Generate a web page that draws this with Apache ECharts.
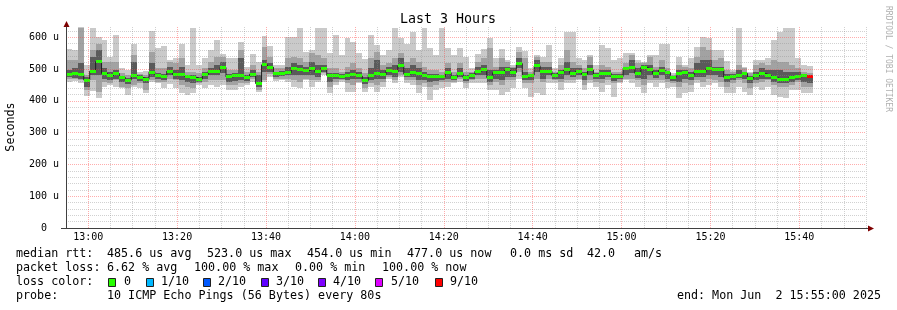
<!DOCTYPE html>
<html><head><meta charset="utf-8">
<script src="https://cdn.jsdelivr.net/npm/echarts@6/dist/echarts.min.js"></script>
<style>html,body{margin:0;padding:0;background:#fff}#c{width:897px;height:310px}</style>
</head><body><div id="c"></div>
<script>
// time axis in minutes since midnight (12:55 .. 15:55), one step = 80 s
const axisMin = 775, axisMax = 955;
const stepStart = 775, stepLen = 80 / 60;

// smoke bands (µs) per 80 s step: outer (min..max), middle, inner, median
const maxV = [563,559,632,514,630,601,591,539,607,502,497,580,491,494,619,565,573,528,533,580,514,628,512,533,559,591,546,533,533,586,507,546,523,
 604,573,514,512,601,601,630,554,559,630,630,549,607,544,598,586,549,531,607,575,544,559,630,596,580,617,559,630,565,544,628,565,544,
 565,539,502,546,563,598,533,563,528,512,570,556,502,544,539,575,502,533,617,617,533,528,544,512,575,565,528,533,549,549,528,523,544,
 544,580,580,486,539,512,533,570,601,596,559,559,525,497,628,507,491,528,528,533,591,617,630,630,533,512,510];
const hi2 = [528,528,630,481,559,580,523,523,523,486,481,544,483,481,554,502,502,523,518,533,491,491,486,502,523,539,539,497,497,559,491,512,491,
 570,539,502,502,533,539,533,523,549,544,533,502,502,491,507,518,502,486,533,554,512,518,533,549,523,533,523,507,497,497,491,518,491,
 518,491,491,523,533,565,507,533,523,507,554,533,491,539,523,523,491,512,559,523,512,502,539,491,512,507,491,491,518,544,518,518,539,
 507,528,502,481,512,507,502,539,570,559,528,533,497,491,512,502,486,512,518,512,528,523,523,512,502,491,486];
const hi3 = [497,504,518,476,539,559,502,491,497,479,473,523,481,476,518,486,483,507,497,507,481,481,476,491,502,512,523,483,486,533,481,497,481,
 528,518,491,494,507,518,512,507,523,512,512,486,486,483,491,497,491,476,502,528,497,507,512,533,502,512,502,491,483,483,481,502,481,
 502,481,486,507,512,497,497,507,507,502,533,491,483,528,507,507,486,497,523,502,502,491,512,486,497,497,483,483,507,528,502,512,512,
 497,507,494,478,497,497,491,518,528,528,507,507,483,483,497,491,479,491,502,497,497,497,491,491,491,483,481];
const median = [484,485,483,465,493,523,486,479,486,474,465,478,473,468,490,479,475,493,483,484,477,474,468,483,493,491,505,475,478,478,474,484,454,
 513,506,485,487,488,502,499,495,501,491,502,479,478,475,479,484,478,463,481,487,482,495,491,510,484,490,486,479,476,475,475,488,473,
 486,473,481,493,499,473,488,488,497,489,517,475,481,510,491,493,479,488,497,486,493,484,497,481,486,486,476,476,502,505,486,505,499,
 485,495,489,474,487,488,478,493,491,501,499,497,474,477,481,486,471,478,486,480,473,467,467,474,475,479,477];
const lo3 = [476,473,470,444,481,481,470,465,470,458,452,470,462,455,476,468,465,481,470,465,458,455,460,470,481,481,486,460,462,465,462,476,444,
 491,491,476,479,481,481,481,481,481,476,491,460,468,468,465,470,470,452,465,470,470,481,476,491,476,476,465,465,460,462,465,470,465,
 476,462,470,481,481,460,470,465,476,476,502,465,465,491,470,481,470,470,481,476,481,465,481,470,470,476,462,467,481,486,473,470,481,
 473,481,470,462,460,470,465,476,476,481,481,476,460,465,473,470,455,465,470,470,460,455,455,460,465,460,455];
const lo2 = [470,470,465,434,465,429,460,455,465,444,439,450,455,434,465,460,460,470,465,450,444,439,455,460,465,465,465,450,450,455,455,470,434,
 465,483,470,470,470,465,460,470,465,465,486,444,460,465,455,450,460,439,455,450,460,476,465,481,465,465,450,455,444,450,460,460,460,
 470,455,465,470,470,450,460,450,465,465,491,455,455,470,460,470,465,460,465,465,470,450,465,460,455,465,455,460,470,470,465,450,465,
 465,465,460,455,444,455,450,465,460,470,465,460,444,455,465,455,439,455,460,465,450,444,444,450,460,444,444];
const minV = [460,462,455,416,431,410,444,450,444,439,418,444,439,423,458,455,439,452,439,423,418,423,450,439,450,444,450,434,434,444,450,460,429,
 460,476,462,465,460,444,439,465,444,460,481,423,450,460,429,429,455,429,444,429,444,470,455,476,455,450,423,444,402,434,439,444,455,
 460,439,455,455,455,434,434,418,429,439,470,439,413,423,418,455,455,434,455,455,465,434,455,444,429,450,413,455,465,455,444,423,455,
 444,455,439,444,408,423,429,455,444,450,455,444,423,423,444,429,418,444,434,444,418,413,410,434,434,423,423];
// lost pings out of 10, per step
const loss = [0,0,0,0,0,0,0,0,0,0,0,0,0,0,0,0,0,0,0,0,0,0,0,0,0,0,0,0,0,0,0,0,0,
 0,0,0,0,0,0,0,0,0,0,0,0,0,0,0,0,0,0,0,0,0,0,0,0,0,0,0,0,0,0,0,0,0,
 0,0,0,0,0,0,0,0,0,0,0,0,0,0,0,0,0,0,0,0,0,0,0,0,0,0,0,0,0,0,0,0,0,
 0,0,0,0,0,0,0,0,0,0,0,0,0,0,0,0,0,0,0,0,0,0,0,0,0,0,9];
const lossColors = {0:'#26ff00',1:'#00b8ff',2:'#0059ff',3:'#5e00ff',4:'#7e00ff',5:'#dd00ff',9:'#ff0000'};
const legendLoss = [['0',0,108,124],['1/10',1,146,161],['2/10',2,203,218],['3/10',3,261,276],['4/10',4,318,333],['5/10',5,375,391],['9/10',9,435,450]];

const yMax = 632;
const mono = '"DejaVu Sans Mono"';
const gridMinor = 'rgba(140,140,140,0.4)';
const gridMajor = 'rgba(255,60,60,0.42)';

const tAt = k => stepStart + k * stepLen;
const smokeData = median.map((m, k) => [tAt(k), tAt(k + 1), maxV[k], hi2[k], hi3[k], lo3[k], lo2[k], minV[k]]);
const medData = median.map((m, k) => [tAt(k), tAt(k + 1), m, loss[k]]);
const stepLine = median.map((m, k) => [tAt(k), m]);
stepLine.push([tAt(median.length), median[median.length - 1]]);

function rectBetween(api, t0, t1, lo, hi, fill) {
  const a = api.coord([t0, hi]), b = api.coord([t1, lo]);
  const x0 = Math.round(a[0]), x1 = Math.round(b[0]);
  const y0 = Math.round(a[1]), y1 = Math.round(b[1]);
  return {type: 'rect', shape: {x: x0, y: y0, width: x1 - x0, height: Math.max(1, y1 - y0)}, style: {fill}};
}

const chart = echarts.init(document.getElementById('c'), null, {renderer: 'canvas'});
const fmtTime = v => { const h = Math.floor(v / 60), m = Math.round(v % 60); return h + ':' + (m < 10 ? '0' : '') + m; };

const T = (x, y, text, extra) => Object.assign({type: 'text', x, y, style: Object.assign({text, fill: '#000', font: '11.7px ' + mono, align: 'left', verticalAlign: 'middle'}, extra || {})});
const graphics = [
  T(448, 20, 'Last 3 Hours', {font: '13.3px ' + mono, align: 'center'}),
  {type: 'text', x: 11, y: 127, rotation: Math.PI / 2, style: {text: 'Seconds', fill: '#000', font: '11.7px ' + mono, align: 'center', verticalAlign: 'middle'}},
  {type: 'text', x: 888, y: 59, rotation: -Math.PI / 2, style: {text: 'RRDTOOL / TOBI OETIKER', fill: '#b0b0b0', font: '8px ' + mono, align: 'center', verticalAlign: 'middle'}},
  T(16, 254, 'median rtt:'), T(107, 254, '485.6 us avg'), T(207, 254, '523.0 us max'), T(307, 254, '454.0 us min'),
  T(407, 254, '477.0 us now'), T(510, 254, '0.0 ms sd'), T(587, 254, '42.0'), T(634, 254, 'am/s'),
  T(16, 268, 'packet loss:'), T(107, 268, '6.62 % avg'), T(194, 268, '100.00 % max'), T(295, 268, '0.00 % min'), T(382, 268, '100.00 % now'),
  T(16, 282, 'loss color:'),
  T(16, 296, 'probe:'), T(107, 296, '10 ICMP Echo Pings (56 Bytes) every 80s'),
  T(881, 296, 'end: Mon Jun  2 15:55:00 2025', {align: 'right'}),
  // axis arrows
  {type: 'polygon', shape: {points: [[66.5, 21], [63.5, 27], [69.5, 27]]}, style: {fill: '#7f0000'}},
  {type: 'polygon', shape: {points: [[874, 228.5], [868, 225.5], [868, 231.5]]}, style: {fill: '#7f0000'}},
  {type: 'line', shape: {x1: 866, y1: 228.5, x2: 868, y2: 228.5}, style: {stroke: '#404040', lineWidth: 1}},
  {type: 'line', shape: {x1: 61, y1: 228.5, x2: 66, y2: 228.5}, style: {stroke: '#404040', lineWidth: 1}}
];
legendLoss.forEach(([label, l, bx, tx]) => {
  graphics.push({type: 'rect', shape: {x: bx + 0.5, y: 278.5, width: 7, height: 8}, style: {fill: lossColors[l], stroke: '#202020', lineWidth: 1}});
  graphics.push(T(tx, 282, label));
});

chart.setOption({
  animation: false,
  backgroundColor: '#ffffff',
  grid: {left: 66, right: 31, top: 27, bottom: 82, containLabel: false},
  xAxis: {
    type: 'value', min: axisMin, max: axisMax, interval: 5, z: 10,
    axisLine: {show: true, lineStyle: {color: '#404040', width: 1}},
    axisTick: {show: false},
    axisLabel: {margin: 4, color: '#000', fontFamily: mono, fontSize: 10,
      formatter: v => (v % 20 === 0 ? fmtTime(v) : '')},
    splitLine: {show: true, lineStyle: {color: [gridMinor, gridMajor, gridMinor, gridMinor], type: [1, 1], width: 1}}
  },
  yAxis: {
    type: 'value', min: 0, max: yMax, interval: 20, z: 10,
    axisLine: {show: true, lineStyle: {color: '#404040', width: 1}},
    axisTick: {show: false},
    axisLabel: {margin: 7, color: '#000', fontFamily: mono, fontSize: 10, showMaxLabel: false,
      formatter: v => (v === 0 ? '0  ' : (v % 100 === 0 ? v + ' u' : ''))},
    splitLine: {show: true, showMaxLine: false, lineStyle: {color: [gridMajor, gridMinor, gridMinor, gridMinor, gridMinor], type: [1, 1], width: 1}}
  },
  series: [
    {
      type: 'custom', name: 'smoke', z: 2, clip: true, data: smokeData,
      encode: {x: [0, 1], y: [2, 7]},
      renderItem: (params, api) => ({type: 'group', children: [
        rectBetween(api, api.value(0), api.value(1), api.value(7), api.value(2), '#cacaca'),
        rectBetween(api, api.value(0), api.value(1), api.value(6), api.value(3), '#a2a2a2'),
        rectBetween(api, api.value(0), api.value(1), api.value(5), api.value(4), '#5a5a5a')
      ]})
    },
    {
      type: 'line', name: 'median', z: 3, step: 'end', data: stepLine, symbol: 'none',
      lineStyle: {color: '#202020', width: 1}
    },
    {
      type: 'custom', name: 'median loss', z: 4, clip: true, data: medData,
      encode: {x: [0, 1], y: 2},
      renderItem: (params, api) => {
        const a = api.coord([api.value(0), api.value(2)]), b = api.coord([api.value(1), api.value(2)]);
        const x0 = Math.round(a[0]), x1 = Math.round(b[0]);
        const y0 = Math.round(a[1] - 1.5);
        return {type: 'rect', shape: {x: x0, y: y0, width: x1 - x0, height: 3}, style: {fill: lossColors[api.value(3)]}};
      }
    }
  ],
  graphic: graphics
});
</script></body></html>
